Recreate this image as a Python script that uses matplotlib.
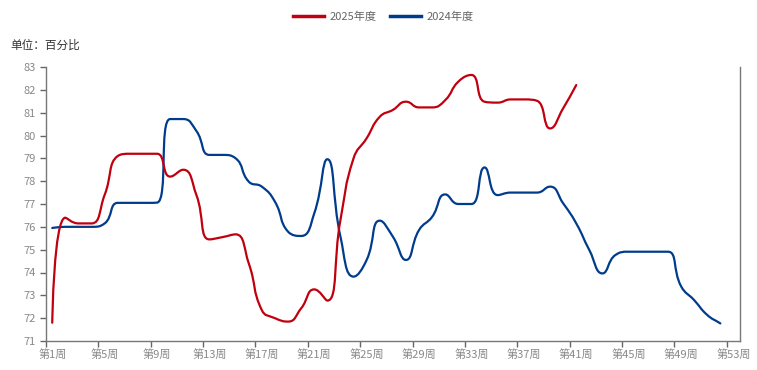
import numpy as np
import matplotlib
matplotlib.use("Agg")
import matplotlib.pyplot as plt
from matplotlib.path import Path
from matplotlib.patches import PathPatch
from matplotlib.lines import Line2D

plt.rcParams['font.family'] = ['Noto Sans CJK SC', 'DejaVu Sans']

weeks_2025 = list(range(1, 42))
values_2025 = [71.8, 76.4, 76.15, 76.15, 77.4, 79.1, 79.2, 79.2, 79.2, 78.2,
               78.5, 77.4, 75.45, 75.55, 75.67, 74.4, 72.35, 72.0, 71.85, 72.43,
               73.26, 72.77, 76.3, 79.0, 79.88, 80.82, 81.12, 81.48, 81.23, 81.23,
               81.55, 82.36, 82.65, 81.48, 81.44, 81.58, 81.58, 81.52, 80.31, 81.19,
               82.21]
weeks_2024 = list(range(1, 53))
values_2024 = [75.95, 76.0, 76.0, 76.0, 76.15, 77.05, 77.05, 77.05, 77.06, 80.72,
               80.72, 80.2, 79.15, 79.15, 79.0, 77.98, 77.76, 77.1, 75.79, 75.6,
               76.59, 78.96, 75.57, 73.82, 74.55, 76.27, 75.57, 74.55, 75.86, 76.44,
               77.42, 77.0, 77.0, 78.6, 77.39, 77.5, 77.5, 77.5, 77.76, 77.03,
               76.15, 74.98, 73.96, 74.77, 74.91, 74.91, 74.91, 74.91, 73.4, 72.79,
               72.14, 71.77]
labels_x = ["第%d周" % w for w in range(1, 54, 4)]
series_names = ["2025年度", "2024年度"]
colors = ["#C0000F", "#003C8C"]

W, H = 757, 370
fig = plt.figure(figsize=(W / 100, H / 100), dpi=100)
l, r, t, b = 45.7, 740, 67, 341
ax = fig.add_axes([l / W, 1 - b / H, (r - l) / W, (b - t) / H])
ax.set_xlim(0.5, 53.5)
ax.set_ylim(71, 83)


def clamp(v, a, b):
    return min(max(v, min(a, b)), max(a, b))


def smooth_path(xs, ys, smooth=0.5):
    # echarts-5-like constrained bezier smoothing, computed in pixel space
    P = ax.transData.transform(np.column_stack([xs, ys]))
    n = len(P)
    cin = [None] * n
    cout = [None] * n
    cout[0] = P[0].copy()
    for i in range(1, n):
        x, y = P[i]
        px, py = P[i - 1]
        if i == n - 1:
            vx, vy = x - px, y - py
            cin[i] = np.array([clamp(x - vx * smooth, px, x), clamp(y - vy * smooth, py, y)])
            break
        nx, ny = P[i + 1]
        vx, vy = nx - px, ny - py
        l0 = np.hypot(x - px, y - py)
        l1 = np.hypot(nx - x, ny - y)
        ratio = l1 / (l0 + l1)
        c0x = x + vx * smooth * ratio
        c0y = y + vy * smooth * ratio
        c0x = clamp(c0x, nx, x)
        c0y = clamp(c0y, ny, y)
        vx, vy = c0x - x, c0y - y
        c1x = x - vx * l0 / l1
        c1y = y - vy * l0 / l1
        c1x = clamp(c1x, px, x)
        c1y = clamp(c1y, py, y)
        vx, vy = x - c1x, y - c1y
        c0x = x + vx * l1 / l0
        c0y = y + vy * l1 / l0
        cin[i] = np.array([c1x, c1y])
        cout[i] = np.array([c0x, c0y])
    verts = [P[0]]
    codes = [Path.MOVETO]
    for i in range(1, n):
        verts += [cout[i - 1], cin[i], P[i]]
        codes += [Path.CURVE4] * 3
    inv = ax.transData.inverted()
    return Path(inv.transform(np.array(verts)), codes)


for xs, ys, c in [(weeks_2024, values_2024, colors[1]), (weeks_2025, values_2025, colors[0])]:
    p = smooth_path(np.array(xs, float), np.array(ys, float))
    ax.add_patch(PathPatch(p, facecolor='none', edgecolor=c, lw=1.6,
                           capstyle='round', joinstyle='round', zorder=3))

ax.set_yticks(range(71, 84))
ax.set_xticks(np.arange(0.5, 54, 4), minor=True)
ax.set_xticks(range(1, 54, 4))
ax.set_xticklabels(labels_x)
ax.tick_params(axis='x', which='major', length=0, pad=6, labelsize=8, labelcolor='#888888')
ax.tick_params(axis='x', which='minor', length=4, color='#666666', width=1)
ax.tick_params(axis='y', length=4, color='#666666', width=1, pad=3, labelsize=8, labelcolor='#888888')
for s in ['left', 'bottom', 'right']:
    ax.spines[s].set_color('#777777')
    ax.spines[s].set_linewidth(1)
ax.spines['top'].set_visible(False)

fig.text(10 / W, 1 - 45 / H, "单位：百分比", fontsize=8.4, color='#333333', va='center', ha='left')

handles = [Line2D([], [], color=colors[0], lw=2.5), Line2D([], [], color=colors[1], lw=2.5)]
fig.legend(handles, series_names, loc='center', bbox_to_anchor=(383 / W, 1 - 17 / H),
           ncol=2, frameon=False, fontsize=8, labelcolor='#666666', handlelength=2.8,
           handletextpad=0.5, columnspacing=1.2)

fig.savefig("out.png", dpi=100)
